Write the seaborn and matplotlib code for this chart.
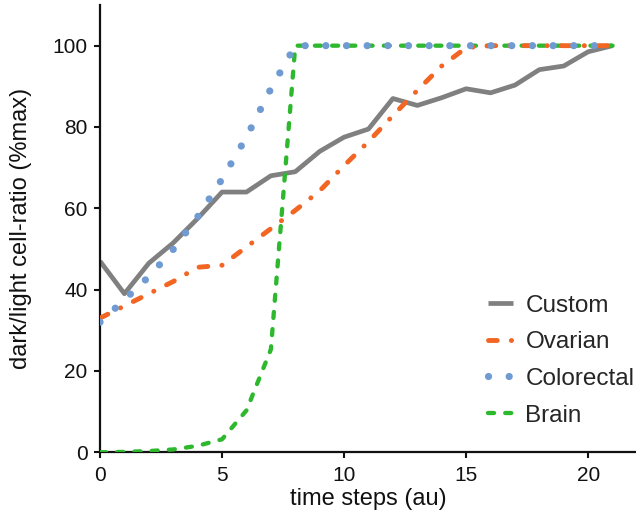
import matplotlib
matplotlib.use("Agg")
import matplotlib.pyplot as plt
import seaborn as sns

# ── data ────────────────────────────────────────────────────────────────────
steps = list(range(22))

custom = [47, 39, 46.5, 51.5, 57.5, 64, 64, 68, 69, 74, 77.5, 79.5,
          87, 85.3, 87.2, 89.4, 88.4, 90.3, 94.1, 95, 98.5, 100]
ovarian = [33, 36, 39, 42, 45.5, 46, 50.5, 55, 59.5, 64.3, 70.5, 76.4,
           82.8, 89, 95, 99.5, 100, 100, 100, 100, 100, 100]
colorectal = [32, 37.5, 43.2, 49.9, 57.9, 67.2, 77.5, 89.4, 100, 100, 100, 100,
              100, 100, 100, 100, 100, 100, 100, 100, 100, 100]
brain = [0, 0.1, 0.3, 0.7, 1.6, 3.2, 10.3, 25.3, 100, 100, 100, 100,
         100, 100, 100, 100, 100, 100, 100, 100, 100, 100]

x_ticks = [0, 5, 10, 15, 20]
y_ticks = [0, 20, 40, 60, 80, 100]

# ── style ───────────────────────────────────────────────────────────────────
sns.set_style("ticks")
plt.rcParams["font.family"] = ["Liberation Sans", "DejaVu Sans"]

fig = plt.figure(figsize=(6.36, 5.21), dpi=100)
ax = fig.add_axes([100 / 636, 68.7 / 521, 537 / 636, 447.3 / 521])

# series: (name, values, colour, width, linestyle, zorder)
series = [
    ("Custom", custom, "#808080", 3.4, "-", 2),
    ("Brain", brain, "#2DB82D", 3.1, (0, (1.4, 2.6)), 3),
    ("Ovarian", ovarian, "#F26522", 3.5, (0, (1.8, 2.9, 0.05, 2.9)), 4),
    ("Colorectal", colorectal, "#6F9BD2", 5.2, (0, (0.01, 2.85)), 5),
]

handles = {}
for name, vals, col, lw, ls, z in series:
    sns.lineplot(x=steps, y=vals, ax=ax, color=col, lw=lw, linestyle=ls,
                 dash_capstyle="round", solid_capstyle="butt", zorder=z,
                 label=name)
    handles[name] = ax.get_lines()[-1]

ax.set_xlim(0, 22)
ax.set_ylim(0, 110)
ax.set_xticks(x_ticks)
ax.set_yticks(y_ticks)
ax.tick_params(axis="both", labelsize=15, length=4, width=1.5,
               direction="out", color="#111111", labelcolor="#111111")
ax.tick_params(axis="x", pad=6)
ax.tick_params(axis="y", pad=5)
for side in ["left", "bottom"]:
    ax.spines[side].set_linewidth(1.6)
    ax.spines[side].set_color("#111111")
sns.despine(ax=ax)

ax.set_xlabel("time steps (au)", fontsize=17, color="#111111", labelpad=2)
ax.set_ylabel("dark/light cell-ratio (%max)", fontsize=17, color="#111111",
              labelpad=15)

order = ["Custom", "Ovarian", "Colorectal", "Brain"]
ax.legend([handles[n] for n in order], order, loc="upper left",
          bbox_to_anchor=(478 / 636, 1 - 285 / 521),
          bbox_transform=fig.transFigure, borderaxespad=0, frameon=False,
          fontsize=17.5, handlelength=1.03, handletextpad=0.52,
          labelspacing=0.6)

fig.savefig("out.png", dpi=100)
